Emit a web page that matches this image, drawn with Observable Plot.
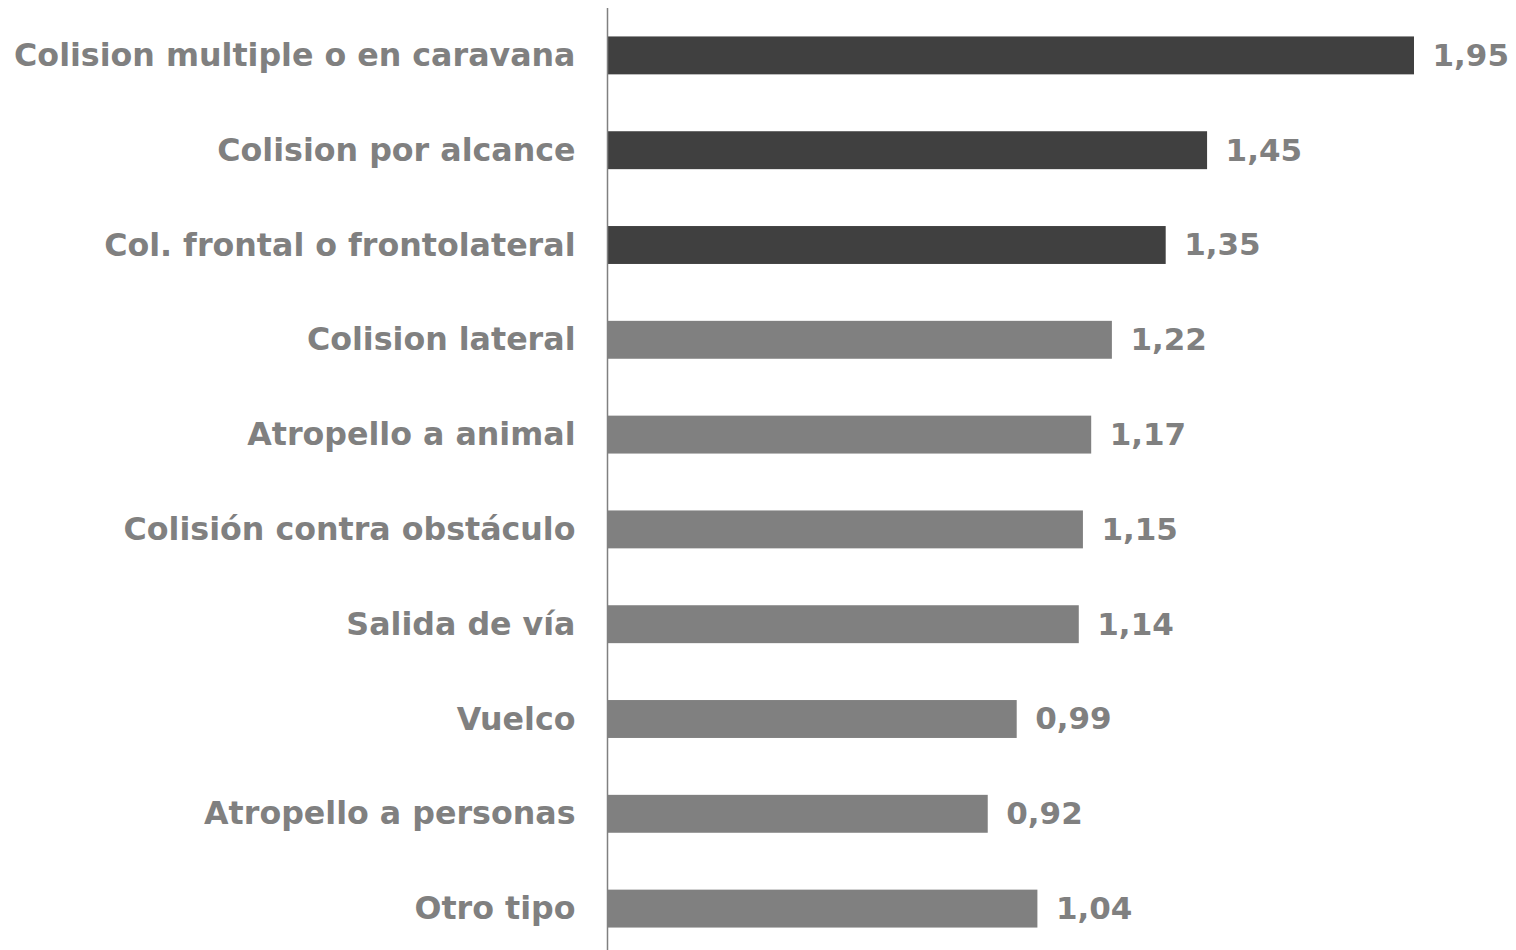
<!DOCTYPE html>
<html>
<head>
<meta charset="utf-8">
<script src="https://cdn.jsdelivr.net/npm/d3@7"></script>
<script src="https://cdn.jsdelivr.net/npm/@observablehq/plot@0.6"></script>
<style>
  html, body { margin: 0; padding: 0; background: #fff; }
  svg { display: block; }
</style>
</head>
<body>
<div id="chart"></div>
<script>
const categories = [
  "Colision multiple o en caravana",
  "Colision por alcance",
  "Col. frontal o frontolateral",
  "Colision lateral",
  "Atropello a animal",
  "Colisión contra obstáculo",
  "Salida de vía",
  "Vuelco",
  "Atropello a personas",
  "Otro tipo"
];
const values = [1.95, 1.45, 1.35, 1.22, 1.17, 1.15, 1.14, 0.99, 0.92, 1.04];
const groups = ["alto", "alto", "alto", "normal", "normal", "normal", "normal", "normal", "normal", "normal"];

const data = categories.map((c, i) => ({cat: c, value: values[i], group: groups[i]}));
const fmt = v => v.toFixed(2).replace(".", ",");

const chart = Plot.plot({
  width: 1516,
  height: 957,
  marginTop: 8,
  marginBottom: 1,
  marginLeft: 607,
  marginRight: 102,
  style: {fontFamily: "'DejaVu Sans', Verdana, sans-serif", background: "#fff"},
  x: {domain: [0, 1.95], axis: null},
  y: {domain: categories, paddingInner: 0.6, paddingOuter: 0.3, round: false, label: null},
  color: {domain: ["alto", "normal"], range: ["#404040", "#808080"]},
  marks: [
    Plot.barX(data, {x: "value", y: "cat", fill: "group"}),
    Plot.text(data, {
      x: "value", y: "cat", text: d => fmt(d.value),
      textAnchor: "start", dx: 18, fill: "#808080",
      fontSize: 31, fontWeight: "bold"
    }),
    Plot.axisY({
      tickSize: 0, tickPadding: 32, fontSize: 31.7, fontWeight: "bold",
      fill: "#808080", label: null
    }),
    Plot.ruleX([0], {stroke: "#808080", strokeWidth: 1.5})
  ]
});
document.getElementById("chart").appendChild(chart);
</script>
</body>
</html>
